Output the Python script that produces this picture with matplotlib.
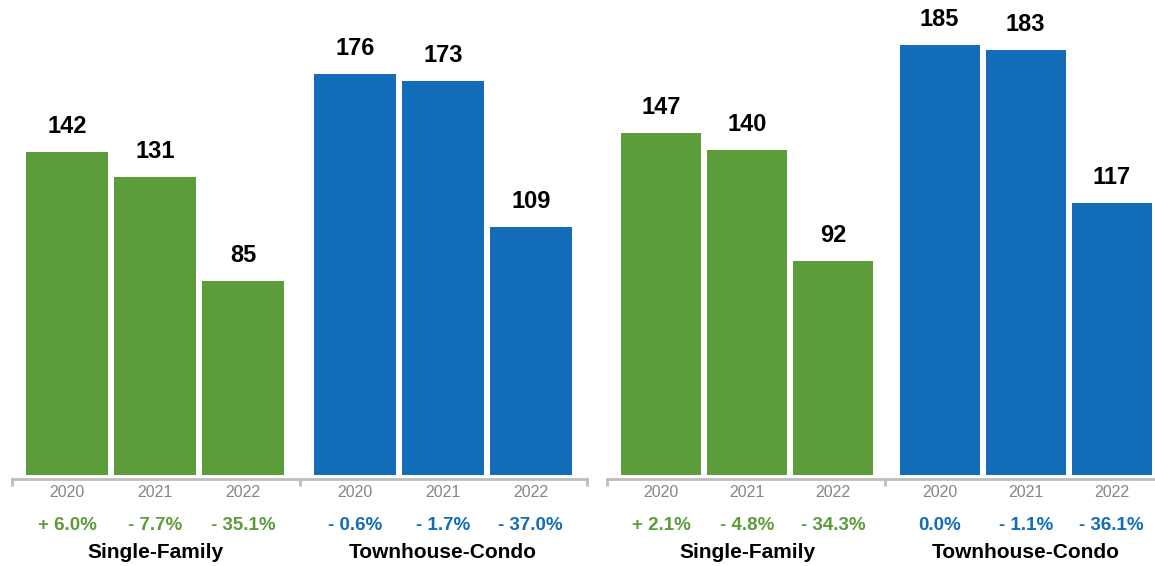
import numpy as np
import matplotlib
matplotlib.use('Agg')
import matplotlib.pyplot as plt

plt.rcParams['font.family'] = ['Liberation Sans', 'DejaVu Sans']

years = ['2020', '2021', '2022']
groups = ['Single-Family', 'Townhouse-Condo']

left_sf = [142, 131, 85]
left_tc = [176, 173, 109]
left_sf_pct = ['+ 6.0%', '- 7.7%', '- 35.1%']
left_tc_pct = ['- 0.6%', '- 1.7%', '- 37.0%']

right_sf = [147, 140, 92]
right_tc = [185, 183, 117]
right_sf_pct = ['+ 2.1%', '- 4.8%', '- 34.3%']
right_tc_pct = ['0.0%', '- 1.1%', '- 36.1%']

GREEN = '#5c9c3a'
BLUE = '#126cb7'
GRAY_AX = '#bdbdbd'
GRAY_TX = '#858585'

W, H = 1155, 566
fig = plt.figure(figsize=(W / 100, H / 100), dpi=100)
PT = 0.72  # points per pixel


def below(ax, txt, x, px, **kw):
    # text with its baseline px pixels under the bars' base
    ax.annotate(txt, (x, 0), xycoords=('data', 'axes fraction'),
                xytext=(0, -px * PT), textcoords='offset points',
                ha='center', va='baseline', **kw)


def panel(x0, x1, unit, pad, ymax, gap, sf, tc, sf_pct, tc_pct):
    base = 475
    ax = fig.add_axes([x0 / W, (H - base) / H, (x1 - x0) / W, base / H])
    xs = np.arange(3)
    xt = xs + gap
    ax.bar(xs, sf, width=0.93, color=GREEN)
    ax.bar(xt, tc, width=0.93, color=BLUE)
    ax.set_ylim(0, ymax)
    left = -pad / unit
    ax.set_xlim(left, left + (x1 - x0) / unit)
    for x, v in zip(np.r_[xs, xt], sf + tc):
        ax.annotate(str(v), (x, v), xytext=(0, 19 * PT), textcoords='offset points',
                    ha='center', va='baseline', fontsize=17, fontweight='bold')
    for s in ['top', 'right', 'left']:
        ax.spines[s].set_visible(False)
    ax.spines['bottom'].set_position(('outward', 3))
    ax.spines['bottom'].set_color(GRAY_AX)
    ax.spines['bottom'].set_linewidth(2)
    xl = ax.get_xlim()
    ax.set_xticks([xl[0], (xl[0] + xl[1]) / 2, xl[1]])
    ax.set_xticklabels([])
    ax.tick_params(axis='x', length=5, width=2, color=GRAY_AX, direction='out')
    ax.set_yticks([])

    pcts = sf_pct + tc_pct
    for i, x in enumerate(np.r_[xs, xt]):
        col = GREEN if i < 3 else BLUE
        below(ax, years[i % 3], x, 22, fontsize=11.5, color=GRAY_TX)
        below(ax, pcts[i], x, 55, fontsize=13.5, fontweight='bold', color=col)
    for g, x in zip(groups, [xs[1], xt[1]]):
        below(ax, g, x, 83, fontsize=15, fontweight='bold')
    return ax


panel(12, 587, 88, 55, 475 / 2.278, 3.27, left_sf, left_tc, left_sf_pct, left_tc_pct)
panel(607, 1163, 86, 54, 475 / 2.324, 3.24, right_sf, right_tc, right_sf_pct, right_tc_pct)

fig.savefig('out.png', dpi=100)
